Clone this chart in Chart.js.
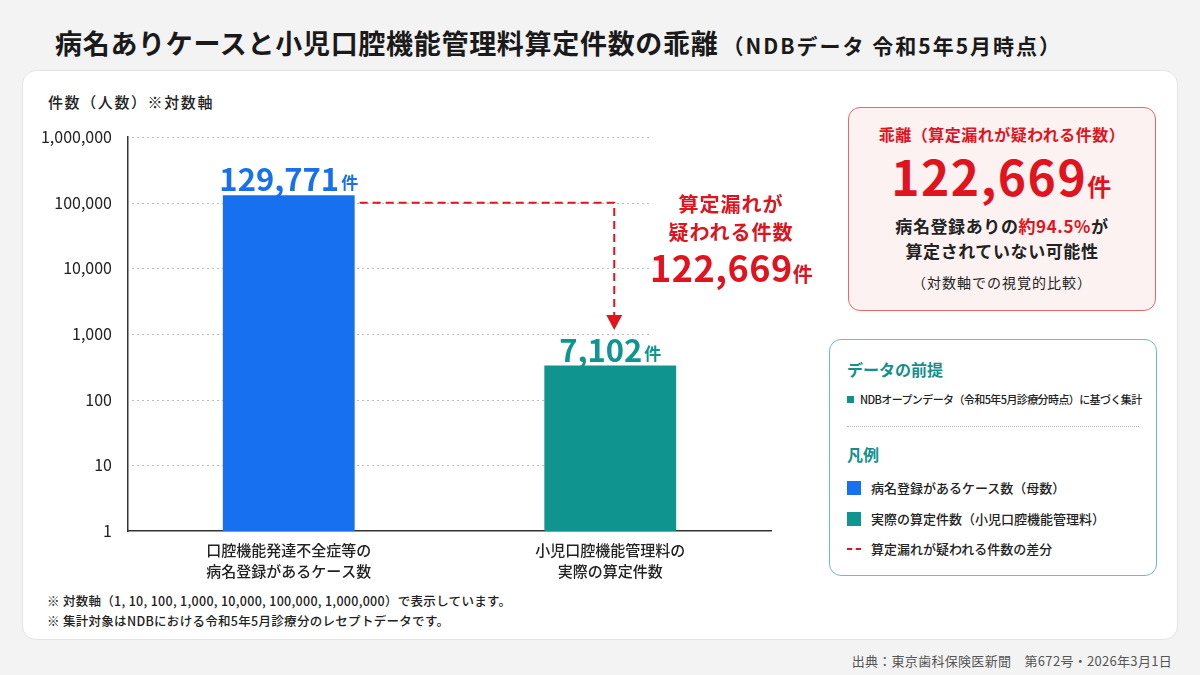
<!DOCTYPE html>
<html lang="ja">
<head>
<meta charset="utf-8">
<script src="https://cdn.jsdelivr.net/npm/chart.js@4"></script>
<style>
  * { box-sizing: border-box; margin: 0; padding: 0; }
  body { width: 1200px; height: 675px; background: #f3f3f3; font-family: "Noto Sans CJK JP", "Noto Sans", sans-serif; color: #222; position: relative; overflow: hidden; }
  .abs { position: absolute; white-space: nowrap; }
  #title { left: 55px; top: 23px; font-size: 27px; font-weight: 700; color: #1a1a1a; letter-spacing: 0.7px; }
  #title small { font-size: 21px; font-weight: 700; margin-left: 4px; letter-spacing: 2px; }
  #card { left: 22px; top: 70px; width: 1156px; height: 570px; background: #fff; border: 1px solid #e4e4e4; border-radius: 14px; }
  #ylabel { left: 48px; top: 91px; font-size: 15px; font-weight: 500; letter-spacing: 1.6px; }
  #chart { left: 30px; top: 100px; }
  #gapNote { left: 650px; top: 190px; width: 162px; text-align: center; color: #e0141e; font-weight: 700; }
  #gapNote .l { font-size: 20px; line-height: 28px; letter-spacing: 1px; }
  #gapNote .big { font-size: 36px; line-height: 40px; letter-spacing: 0.5px; }
  #gapNote .big span { font-size: 20px; }
  #pink { left: 848px; top: 107px; width: 308px; height: 204px; background: #fdf2f2; border: 1.5px solid #e36a6a; border-radius: 12px; text-align: center; }
  #pink .h { margin-top: 14px; font-size: 16px; font-weight: 700; color: #e0141e; letter-spacing: 0.5px; }
  #pink .num { font-size: 48px; font-weight: 700; color: #e0141e; line-height: 54px; margin-top: 2px; letter-spacing: 1.5px; }
  #pink .num span { font-size: 24px; }
  #pink .t { font-size: 17px; font-weight: 700; line-height: 25px; letter-spacing: 0.6px; }
  #pink .t:first-of-type { margin-top: 2px; }
  #pink .t em { font-style: normal; color: #e0141e; }
  #pink .s { font-size: 14px; margin-top: 9px; letter-spacing: 1px; }
  #teal { left: 829px; top: 339px; width: 328px; height: 237px; background: #fff; border: 1.5px solid #6fbcbc; border-radius: 12px; }
  #teal .hd { position: absolute; left: 17px; font-size: 16px; font-weight: 700; color: #138f8c; }
  #teal .note { position: absolute; left: 17px; top: 51px; font-size: 11px; font-weight: 500; letter-spacing: -0.6px; }
  #teal .note i { display: inline-block; width: 7px; height: 7px; background: #138f8c; margin-right: 6px; vertical-align: 1px; }
  #teal .div { position: absolute; left: 17px; top: 86px; width: 292px; border-top: 1px dotted #b5b5b5; }
  #teal .item { position: absolute; left: 17px; font-size: 13px; font-weight: 500; }
  #teal .item i { display: inline-block; width: 14px; height: 14px; margin-right: 10px; vertical-align: -2px; }
  #teal .item b { display: inline-block; width: 14px; margin-right: 10px; border-top: 2px dashed #e0141e; vertical-align: 4px; }
  .foot { left: 47px; font-size: 12.5px; font-weight: 500; letter-spacing: 0.3px; }
  #src { right: 28px; top: 651px; font-size: 13px; color: #555; letter-spacing: 0.3px; }
</style>
</head>
<body>
<div class="abs" id="card"></div>
<div class="abs" id="title">病名ありケースと小児口腔機能管理料算定件数の乖離<small>（NDBデータ 令和5年5月時点）</small></div>
<div class="abs" id="ylabel">件数（人数）※対数軸</div>
<canvas class="abs" id="chart" width="760" height="480"></canvas>
<div class="abs" id="gapNote">
  <div class="l">算定漏れが</div>
  <div class="l">疑われる件数</div>
  <div class="big">122,669<span>件</span></div>
</div>
<div class="abs" id="pink">
  <div class="h">乖離（算定漏れが疑われる件数）</div>
  <div class="num">122,669<span>件</span></div>
  <div class="t">病名登録ありの<em>約94.5%</em>が</div>
  <div class="t">算定されていない可能性</div>
  <div class="s">（対数軸での視覚的比較）</div>
</div>
<div class="abs" id="teal">
  <div class="hd" style="top:17px">データの前提</div>
  <div class="note"><i></i>NDBオープンデータ（令和5年5月診療分時点）に基づく集計</div>
  <div class="div"></div>
  <div class="hd" style="top:102px">凡例</div>
  <div class="item" style="top:138px"><i style="background:#1670f0"></i>病名登録があるケース数（母数）</div>
  <div class="item" style="top:169px"><i style="background:#0f9490"></i>実際の算定件数（小児口腔機能管理料）</div>
  <div class="item" style="top:199px"><b></b>算定漏れが疑われる件数の差分</div>
</div>
<div class="abs foot" style="top:591px">※ 対数軸（1, 10, 100, 1,000, 10,000, 100,000, 1,000,000）で表示しています。</div>
<div class="abs foot" style="top:611px">※ 集計対象はNDBにおける令和5年5月診療分のレセプトデータです。</div>
<div class="abs" id="src">出典：東京歯科保険医新聞　第672号・2026年3月1日</div>

<script>
const categories = [
  ['口腔機能発達不全症等の', '病名登録があるケース数'],
  ['小児口腔機能管理料の', '実際の算定件数']
];
// bar heights as drawn in the picture (log axis)
const barValues = [129771, 330];
const valueLabels = ['129,771', '7,102'];
const barColors = ['#1670f0', '#0f9490'];
const yTicks = [1, 10, 100, 1000, 10000, 100000, 1000000];
// red dashed gap line: from this level down to the arrow tip
const gapFrom = 100000;
const gapTo = 1150;

const FONT = '"Noto Sans CJK JP", "Noto Sans", sans-serif';

const overlay = {
  id: 'overlay',
  beforeDatasetsDraw(chart) {
    const { ctx, scales: { x, y } } = chart;
    ctx.save();
    ctx.strokeStyle = '#bdbdbd';
    ctx.lineWidth = 1;
    ctx.setLineDash([2, 3]);
    const gridEnd = x.getPixelForValue(1) + 42;
    yTicks.slice(1).forEach(v => {
      const py = Math.round(y.getPixelForValue(v)) + 0.5;
      ctx.beginPath();
      ctx.moveTo(x.left + 4, py);
      ctx.lineTo(gridEnd, py);
      ctx.stroke();
    });
    ctx.restore();
  },
  afterDatasetsDraw(chart) {
    const { ctx, scales: { y } } = chart;
    const meta = chart.getDatasetMeta(0);
    ctx.save();
    // value labels
    meta.data.forEach((bar, i) => {
      ctx.font = `700 31px ${FONT}`;
      const w1 = ctx.measureText(valueLabels[i]).width;
      ctx.font = `700 17px ${FONT}`;
      const w2 = ctx.measureText('件').width;
      const left = bar.x - (w1 + w2 + 2) / 2;
      const base = bar.y - 4;
      ctx.fillStyle = barColors[i];
      ctx.textBaseline = 'alphabetic';
      ctx.font = `700 31px ${FONT}`;
      ctx.fillText(valueLabels[i], left, base);
      ctx.font = `700 17px ${FONT}`;
      ctx.fillText('件', left + w1 + 2, base - 2);
    });
    // gap line
    const b0 = meta.data[0];
    const b1 = meta.data[1];
    const x0 = b0.x + b0.width / 2 + 5;
    const x1 = b1.x + 4;
    const y0 = y.getPixelForValue(gapFrom);
    const yTip = y.getPixelForValue(gapTo);
    ctx.strokeStyle = '#e0141e';
    ctx.lineWidth = 2;
    ctx.setLineDash([8, 5]);
    ctx.beginPath();
    ctx.moveTo(x0, y0);
    ctx.lineTo(x1, y0);
    ctx.lineTo(x1, yTip - 15);
    ctx.stroke();
    ctx.setLineDash([]);
    ctx.fillStyle = '#e0141e';
    ctx.beginPath();
    ctx.moveTo(x1 - 8, yTip - 15);
    ctx.lineTo(x1 + 8, yTip - 15);
    ctx.lineTo(x1, yTip);
    ctx.closePath();
    ctx.fill();
    ctx.restore();
  }
};

new Chart(document.getElementById('chart'), {
  type: 'bar',
  data: {
    labels: categories,
    datasets: [{
      data: barValues,
      backgroundColor: barColors,
      borderWidth: 0,
      barPercentage: 0.41,
      categoryPercentage: 1
    }]
  },
  options: {
    responsive: false,
    animation: false,
    layout: { padding: { top: 37, right: 19, left: 0, bottom: 0 } },
    plugins: { legend: { display: false }, tooltip: { enabled: false } },
    scales: {
      x: {
        grid: { display: false },
        border: { display: true, color: '#333', width: 1.5 },
        ticks: { color: '#222', font: { family: FONT, size: 15, weight: 500, lineHeight: 1.45 }, padding: 0, maxRotation: 0 },
        afterFit(scale) { scale.height = 49; }
      },
      y: {
        type: 'logarithmic',
        min: 1,
        max: 1000000,
        grid: { display: false },
        border: { display: true, color: '#333', width: 1.5 },
        afterBuildTicks(scale) { scale.ticks = yTicks.map(v => ({ value: v })); },
        ticks: {
          color: '#222',
          padding: 8,
          font: { family: FONT, size: 16 },
          callback: v => v.toLocaleString('en-US')
        },
        afterFit(scale) { scale.width = 98; }
      }
    }
  },
  plugins: [overlay]
});
</script>
</body>
</html>
